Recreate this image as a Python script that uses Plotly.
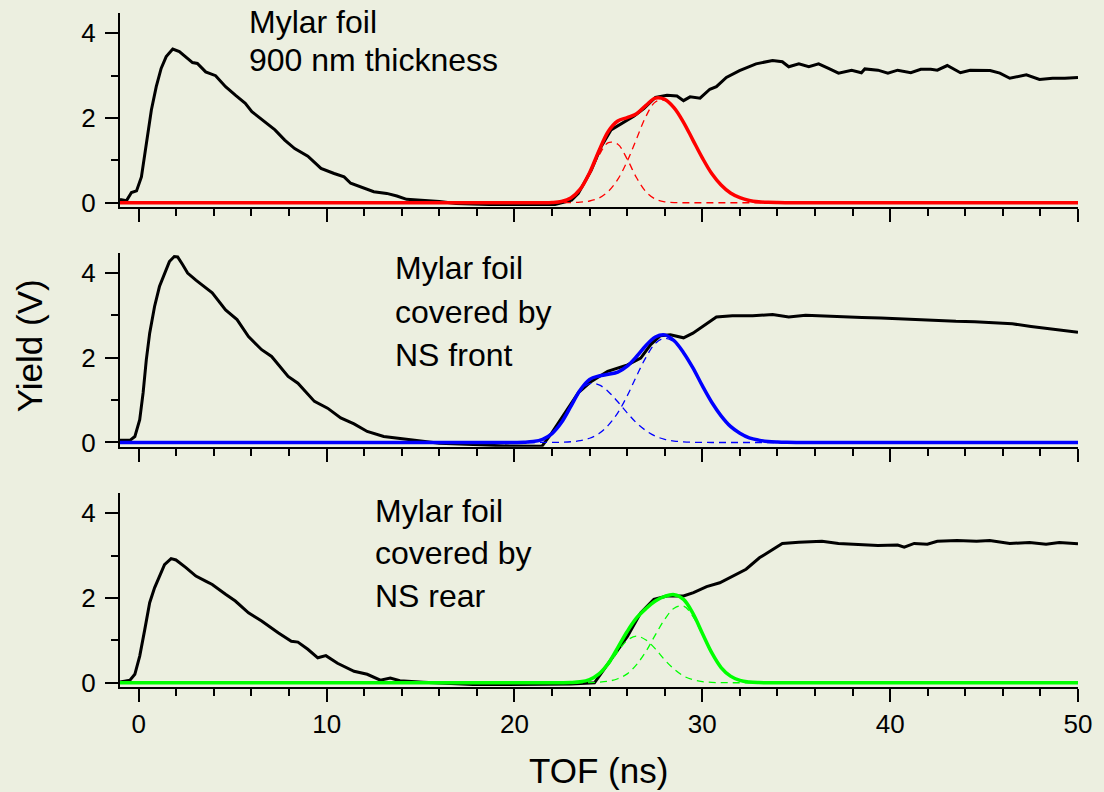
import plotly.graph_objects as go

# ---------------- measured TOF spectra (ns, V) ----------------
tof_900nm = [-1.0, -0.65, -0.39, -0.12, 0.14, 0.4, 0.67, 0.93, 1.19, 1.46, 1.81, 2.16, 2.51, 2.86,
             3.12, 3.56, 4.09, 4.62, 5.14, 5.67, 6.02, 6.72, 7.25, 7.77, 8.3, 9.0, 9.7, 10.4, 10.93,
             11.28, 11.98, 12.51, 13.2, 13.74, 14.26, 15.14, 16.0, 16.9, 18.65, 20.4, 22.16, 23.04,
             23.4, 24.09, 24.61, 25.14, 25.67, 26.37, 26.9, 27.51, 28.12, 28.65, 29.0, 29.35, 29.88,
             30.4, 30.75, 31.28, 31.98, 32.86, 33.74, 34.26, 34.6, 35.14, 35.67, 36.19, 36.72, 37.25,
             37.95, 38.47, 38.65, 39.35, 39.88, 40.4, 41.1, 41.63, 42.16, 42.51, 43.04, 43.74, 44.26,
             44.79, 45.32, 45.84, 46.37, 47.25, 47.95, 48.65, 49.3, 50.0]
yield_900nm = [0.08, 0.05, 0.24, 0.28, 0.61, 1.40, 2.19, 2.74, 3.17, 3.45, 3.63, 3.57, 3.45, 3.31,
               3.29, 3.09, 3.00, 2.74, 2.54, 2.35, 2.15, 1.91, 1.72, 1.48, 1.28, 1.10, 0.81, 0.69, 0.61,
               0.46, 0.34, 0.26, 0.22, 0.16, 0.08, 0.05, 0.03, -0.02, -0.04, -0.04, -0.04, 0.06,
               0.22, 0.77, 1.32, 1.72, 1.87, 2.05, 2.23, 2.49, 2.54, 2.52, 2.41, 2.50, 2.47,
               2.68, 2.74, 2.96, 3.12, 3.28, 3.36, 3.33, 3.21, 3.28, 3.21, 3.28, 3.17, 3.06,
               3.13, 3.07, 3.16, 3.13, 3.06, 3.13, 3.07, 3.15, 3.15, 3.13, 3.24, 3.07, 3.13,
               3.12, 3.12, 3.06, 2.94, 3.02, 2.91, 2.94, 2.94, 2.96]

tof_front = [-1.0, -0.47, -0.21, 0.05, 0.23, 0.4, 0.58, 0.84, 1.1, 1.37, 1.63, 1.89, 2.07, 2.33, 2.6,
             3.04, 3.56, 3.91, 4.62, 5.23, 5.84, 6.54, 7.07, 7.95, 8.47, 9.35, 10.05, 10.75, 11.46,
             12.16, 13.04, 13.9, 15.14, 16.0, 17.8, 19.5, 21.3, 21.46, 21.98, 22.68, 23.39, 24.09,
             24.96, 26.02, 26.72, 27.25, 27.77, 28.3, 29.0, 29.5, 30.05, 30.75, 31.6, 32.68, 33.74,
             34.6, 35.5, 36.5, 37.5, 38.5, 39.5, 40.5, 41.5, 42.5, 43.5, 44.5, 45.5, 46.5, 47.5,
             48.5, 49.3, 50.0]
yield_front = [0.05, 0.05, 0.14, 0.54, 1.17, 1.95, 2.58, 3.21, 3.68, 4.00, 4.27, 4.39, 4.38, 4.20, 4.00,
               3.83, 3.65, 3.53, 3.13, 2.90, 2.50, 2.19, 2.03, 1.56, 1.40, 0.97, 0.81, 0.58, 0.44,
               0.26, 0.14, 0.09, 0.02, -0.02, -0.05, -0.08, -0.09, -0.09, 0.22, 0.69, 1.17, 1.44,
               1.68, 1.83, 1.99, 2.31, 2.52, 2.54, 2.47, 2.58, 2.74, 2.96, 2.99, 2.99, 3.02,
               2.96, 3.00, 2.98, 2.96, 2.95, 2.94, 2.92, 2.89, 2.87, 2.86, 2.85, 2.83, 2.80, 2.74,
               2.68, 2.64, 2.60]

tof_rear = [-1.0, -0.47, -0.21, 0.05, 0.32, 0.58, 0.84, 1.1, 1.37, 1.72, 1.98, 2.51, 3.04, 3.56, 3.91,
            4.62, 5.14, 5.84, 6.54, 7.42, 8.12, 8.47, 9.0, 9.53, 9.96, 10.58, 11.46, 12.16, 12.86,
            13.39, 13.9, 15.14, 16.0, 17.8, 19.5, 21.3, 23.0, 24.26, 25.14, 26.02, 26.72, 27.42,
            28.12, 29.0, 29.53, 30.23, 30.93, 31.63, 32.33, 33.04, 33.74, 34.26, 35.14, 36.37, 37.25,
            38.3, 39.35, 40.4, 40.75, 41.28, 41.98, 42.51, 43.56, 44.6, 45.3, 46.37, 47.42, 48.3,
            49.0, 50.0]
yield_rear = [0.02, 0.06, 0.20, 0.63, 1.26, 1.89, 2.24, 2.52, 2.79, 2.93, 2.90, 2.72, 2.52, 2.40, 2.32,
              2.09, 1.93, 1.65, 1.46, 1.18, 0.98, 0.96, 0.79, 0.59, 0.64, 0.46, 0.27, 0.20, 0.06,
              0.11, 0.05, 0.015, 0.0, -0.04, -0.04, -0.03, -0.03, 0.0, 0.55, 1.10, 1.65, 1.97,
              2.05, 2.05, 2.13, 2.27, 2.36, 2.52, 2.68, 2.95, 3.15, 3.29, 3.32, 3.34, 3.29,
              3.27, 3.24, 3.25, 3.20, 3.29, 3.27, 3.34, 3.36, 3.34, 3.36, 3.29, 3.31, 3.27,
              3.31, 3.28]

# ---------------- two-peak fits (ns, V) ----------------
fit_tof_900nm = [-1.0, 21, 21.5, 22, 22.5, 23, 23.5, 24, 24.5, 25, 25.5, 26, 26.5, 27, 27.5, 28, 28.5,
                 29, 29.5, 30, 30.5, 31, 31.5, 32, 32.5, 33, 33.5, 34, 34.5, 35, 50.0]
fit_900nm_p1 = [0, 0.0, 0.001, 0.006, 0.03, 0.11, 0.31, 0.67, 1.12, 1.42, 1.38, 1.03, 0.59, 0.26, 0.087,
                0.022, 0.004, 0.0, 0, 0, 0, 0, 0, 0, 0, 0, 0, 0, 0, 0, 0]
fit_900nm_p2 = [0, 0.0, 0.0, 0.0, 0.001, 0.004, 0.013, 0.041, 0.11, 0.27, 0.55, 0.98, 1.51, 2.04, 2.38,
                2.42, 2.24, 1.90, 1.48, 1.06, 0.69, 0.42, 0.23, 0.12, 0.054, 0.023, 0.009, 0.003,
                0.001, 0.0, 0]
fit_900nm_sum = [0, 0.0, 0.001, 0.006, 0.031, 0.114, 0.32, 0.71, 1.23, 1.69, 1.93, 2.01, 2.10, 2.30,
                 2.47, 2.44, 2.24, 1.90, 1.48, 1.06, 0.69, 0.42, 0.23, 0.12, 0.054, 0.023, 0.009,
                 0.003, 0.001, 0.0, 0]

fit_tof_front = [-1.0, 20, 20.5, 21, 21.5, 22, 22.5, 23, 23.5, 24, 24.5, 25, 25.5, 26, 26.5, 27, 27.5,
                 28, 28.5, 29, 29.5, 30, 30.5, 31, 31.5, 32, 32.5, 33, 33.5, 34, 34.5, 35, 50.0]
fit_front_p1 = [0, 0.001, 0.005, 0.021, 0.074, 0.21, 0.46, 0.83, 1.20, 1.39, 1.36, 1.20, 0.96, 0.70,
                0.46, 0.28, 0.15, 0.075, 0.034, 0.014, 0.005, 0.002, 0, 0, 0, 0, 0, 0, 0, 0, 0, 0, 0]
fit_front_p2 = [0, 0, 0, 0, 0.001, 0.002, 0.006, 0.017, 0.043, 0.10, 0.21, 0.41, 0.70, 1.10, 1.57,
                2.01, 2.34, 2.46, 2.37, 2.11, 1.75, 1.34, 0.95, 0.63, 0.38, 0.22, 0.11, 0.056, 0.025,
                0.011, 0.004, 0.001, 0]
fit_front_sum = [0, 0.001, 0.005, 0.021, 0.075, 0.21, 0.47, 0.85, 1.24, 1.49, 1.57, 1.61, 1.66, 1.80,
                 2.03, 2.29, 2.49, 2.54, 2.40, 2.12, 1.76, 1.34, 0.95, 0.63, 0.38, 0.22, 0.11, 0.056,
                 0.025, 0.011, 0.004, 0.001, 0]

fit_tof_rear = [-1.0, 22, 22.5, 23, 23.5, 24, 24.5, 25, 25.5, 26, 26.5, 27, 27.5, 28, 28.5, 29, 29.5,
                30, 30.5, 31, 31.5, 32, 32.5, 33, 33.5, 34, 50.0]
fit_rear_p1 = [0, 0.0, 0.001, 0.005, 0.021, 0.072, 0.20, 0.42, 0.73, 1.00, 1.10, 1.01, 0.80, 0.54,
               0.32, 0.16, 0.071, 0.027, 0.009, 0.003, 0.001, 0, 0, 0, 0, 0, 0]
fit_rear_p2 = [0, 0, 0, 0, 0.001, 0.004, 0.013, 0.037, 0.095, 0.21, 0.43, 0.74, 1.13, 1.50, 1.76,
               1.81, 1.57, 1.14, 0.70, 0.36, 0.155, 0.056, 0.017, 0.004, 0.001, 0, 0]
fit_rear_sum = [0, 0.0, 0.001, 0.005, 0.022, 0.076, 0.21, 0.46, 0.83, 1.21, 1.53, 1.75, 1.93, 2.04,
                2.08, 1.97, 1.64, 1.17, 0.71, 0.36, 0.156, 0.056, 0.017, 0.004, 0.001, 0, 0]

panel_labels = [["Mylar foil", "900 nm thickness"],
                ["Mylar foil", "covered by", "NS front"],
                ["Mylar foil", "covered by", "NS rear"]]
# label anchor per panel: left x (ns) and the centre height of each text line (V)
label_x = [5.79, 13.59, 12.51]
label_y = [[4.27, 3.37], [4.12, 3.09, 2.07], [4.06, 3.07, 2.04]]

FONT = "Liberation Sans, Arial, Helvetica, sans-serif"
BG = "#ECEFE0"

panels = [
    (tof_900nm, yield_900nm, fit_tof_900nm, fit_900nm_p1, fit_900nm_p2, fit_900nm_sum, "#FF0000"),
    (tof_front, yield_front, fit_tof_front, fit_front_p1, fit_front_p2, fit_front_sum, "#0000FF"),
    (tof_rear, yield_rear, fit_tof_rear, fit_rear_p1, fit_rear_p2, fit_rear_sum, "#00FF00"),
]

fig = go.Figure()
for i, (t, y, ft, p1, p2, s, col) in enumerate(panels):
    xa = "x" if i == 0 else f"x{i + 1}"
    ya = "y" if i == 0 else f"y{i + 1}"
    fig.add_trace(go.Scatter(x=t, y=y, mode="lines", xaxis=xa, yaxis=ya,
                             line=dict(color="black", width=3), showlegend=False))
    for comp in (p1, p2):
        fig.add_trace(go.Scatter(x=ft, y=comp, mode="lines", xaxis=xa, yaxis=ya,
                                 line=dict(color=col, width=1.3, dash="7px,5px", shape="spline"),
                                 showlegend=False))
    fig.add_trace(go.Scatter(x=ft, y=s, mode="lines", xaxis=xa, yaxis=ya,
                             line=dict(color=col, width=3.5, shape="spline"), showlegend=False))

x_common = dict(range=[-1, 50], showgrid=False, zeroline=False, showline=True,
                linecolor="black", linewidth=2, ticks="outside", ticklen=13, tickwidth=2,
                tickcolor="black", tick0=0, dtick=10,
                minor=dict(dtick=2, ticks="outside", ticklen=7, tickwidth=2, tickcolor="black"),
                tickfont=dict(family=FONT, size=26, color="black"))
y_common = dict(range=[-0.1, 4.48], showgrid=False, zeroline=False, showline=True,
                linecolor="black", linewidth=2, ticks="outside", ticklen=13, tickwidth=2,
                tickcolor="black", tick0=0, dtick=2, ticklabelstandoff=4,
                minor=dict(dtick=1, ticks="outside", ticklen=7, tickwidth=2, tickcolor="black"),
                tickfont=dict(family=FONT, size=26, color="black"))

domains = [[0.7122, 1.0], [0.3565, 0.6444], [0.0, 0.2878]]
layout = dict(width=1104, height=792, paper_bgcolor=BG, plot_bgcolor=BG,
              margin=dict(l=120, r=15, t=13, b=105), showlegend=False)
for i in range(3):
    xk = "xaxis" if i == 0 else f"xaxis{i + 1}"
    yk = "yaxis" if i == 0 else f"yaxis{i + 1}"
    ya = "y" if i == 0 else f"y{i + 1}"
    xa = "x" if i == 0 else f"x{i + 1}"
    layout[xk] = dict(x_common, anchor=ya, domain=[0, 1], showticklabels=(i == 2))
    layout[yk] = dict(y_common, anchor=xa, domain=domains[i])
fig.update_layout(**layout)

annotations = []
for i in range(3):
    xa = "x" if i == 0 else f"x{i + 1}"
    ya = "y" if i == 0 else f"y{i + 1}"
    for line, yy in zip(panel_labels[i], label_y[i]):
        annotations.append(dict(text=line, x=label_x[i], y=yy, xref=xa, yref=ya,
                                xanchor="left", yanchor="middle", showarrow=False, borderpad=0,
                                font=dict(family=FONT, size=32, color="black")))
annotations.append(dict(text="Yield (V)", x=-0.095, y=0.507, xref="paper", yref="paper",
                        textangle=-90, xanchor="center", yanchor="middle", showarrow=False,
                        font=dict(family=FONT, size=35, color="black")))
annotations.append(dict(text="TOF (ns)", x=0.499, y=-0.1246, xref="paper", yref="paper",
                        xanchor="center", yanchor="middle", showarrow=False,
                        font=dict(family=FONT, size=35, color="black")))
fig.update_layout(annotations=annotations)

fig.write_html("out.html")
